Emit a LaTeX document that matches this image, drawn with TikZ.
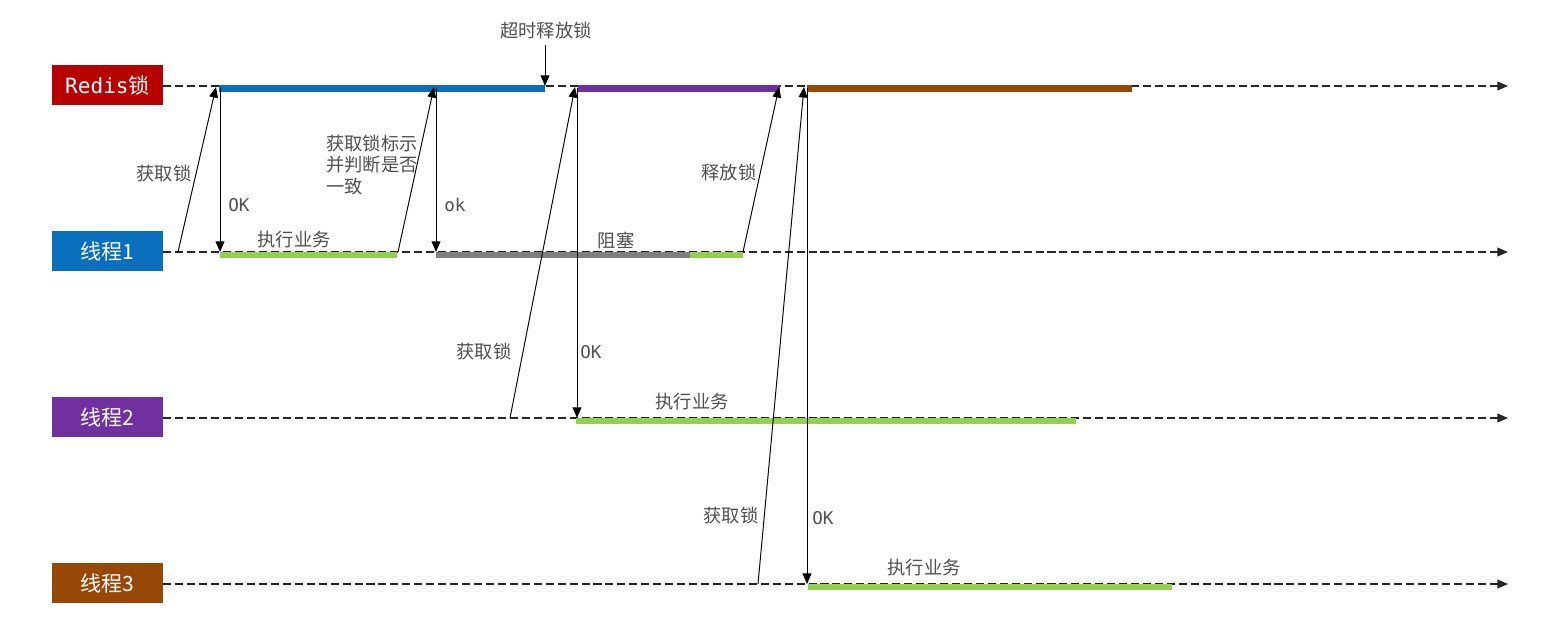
\documentclass[tikz,border=0pt]{standalone}
\usepackage{fontspec}
\setmainfont{Noto Sans CJK SC}
\newfontfamily\monof{DejaVu Sans Mono}
\usetikzlibrary{arrows.meta}
\definecolor{redisc}{HTML}{B70000}
\definecolor{t1c}{HTML}{0A70BE}
\definecolor{t2c}{HTML}{7030A0}
\definecolor{t3c}{HTML}{974806}
\definecolor{grn}{HTML}{92D050}
\definecolor{gry}{HTML}{7F7F7F}
\definecolor{txt}{HTML}{505050}
\tikzset{
  lane/.style={draw=none, minimum width=111*0.02cm, minimum height=40*0.02cm, text=white, font=\fontsize{12}{14}\selectfont, inner sep=0pt},
  timeline/.style={draw=black!85, line width=0.6pt, dash pattern=on 4.6pt off 2.2pt, -{Triangle[length=6pt,width=5pt]}},
  msg/.style={draw=black, line width=0.55pt, -{Triangle[length=6pt,width=5pt]}},
  lbl/.style={text=txt, font=\fontsize{10.4}{12.4}\selectfont, inner sep=0pt},
  oklbl/.style={text=txt, font=\monof\fontsize{10}{12}\selectfont, inner sep=0pt},
}
\begin{document}
\begin{tikzpicture}[x=0.02cm, y=-0.02cm]
\useasboundingbox (0,0) rectangle (1553,635);
% lanes
\node[lane, fill=redisc] (redis) at (107.5,85) {{\monof Redis}锁};
\node[lane, fill=t1c] (t1) at (107.5,251) {线程1};
\node[lane, fill=t2c] (t2) at (107.5,417) {线程2};
\node[lane, fill=t3c] (t3) at (107.5,583) {线程3};
% timeline end points
\coordinate (re) at (1508,86);
\coordinate (t1e) at (1508,252);
\coordinate (t2e) at (1508,418);
\coordinate (t3e) at (1508,584);
% timelines
\draw[timeline] (redis.east |- re) -- (re);
\draw[timeline] (t1.east |- t1e) -- (t1e);
\draw[timeline] (t2.east |- t2e) -- (t2e);
\draw[timeline] (t3.east |- t3e) -- (t3e);
% bars
\fill[t1c] (219,85.5) rectangle (545,92);
\fill[t2c] (578,85.5) rectangle (780,92);
\fill[t3c] (807,85.5) rectangle (1132,92);
\fill[grn] (220,251.5) rectangle (397,258);
\fill[gry] (436,251.5) rectangle (690,258);
\fill[grn] (690,251.5) rectangle (743,258);
\fill[grn] (576,417.5) rectangle (1076,424);
\fill[grn] (808,583.5) rectangle (1172,590);
% message coordinates
\coordinate (a1s) at (178,252); \coordinate (a1e) at (216,87);
\coordinate (o1s) at (220,88); \coordinate (o1e) at (220,252);
\coordinate (a2s) at (398,252); \coordinate (a2e) at (434,87);
\coordinate (o2s) at (436,88); \coordinate (o2e) at (436,252);
\coordinate (tos) at (545,45); \coordinate (toe) at (545,86);
\coordinate (a3s) at (510,418); \coordinate (a3e) at (575,87);
\coordinate (o3s) at (577,88); \coordinate (o3e) at (577,418);
\coordinate (a4s) at (743,252); \coordinate (a4e) at (779,87);
\coordinate (a5s) at (758,584); \coordinate (a5e) at (804,87);
\coordinate (o5s) at (807,88); \coordinate (o5e) at (807,584);
\draw[msg] (a1s) -- (a1e);
\draw[msg] (o1s) -- (o1e);
\draw[msg] (a2s) -- (a2e);
\draw[msg] (o2s) -- (o2e);
\draw[msg] (tos) -- (toe);
\draw[msg] (a3s) -- (a3e);
\draw[msg] (o3s) -- (o3e);
\draw[msg] (a4s) -- (a4e);
\draw[msg] (a5s) -- (a5e);
\draw[msg] (o5s) -- (o5e);
% labels
\node[lbl] (l1) at (164,174) {获取锁};
\node[oklbl, anchor=west] (k1) at (228,205) {OK};
\node[lbl, anchor=west, align=left] (l2) at (326,165) {获取锁标示\\并判断是否\\一致};
\node[oklbl, anchor=west] (k2) at (444,205) {ok};
\node[lbl] (l3) at (546,31) {超时释放锁};
\node[lbl] (l4) at (484,352) {获取锁};
\node[oklbl, anchor=west] (k3) at (580,352) {OK};
\node[lbl] (l5) at (729,173) {释放锁};
\node[lbl] (l6) at (731,516) {获取锁};
\node[oklbl, anchor=west] (k5) at (812,518) {OK};
\node[lbl] (b1) at (294,240) {执行业务};
\node[lbl] (b2) at (616,240) {阻塞};
\node[lbl] (b3) at (692,402) {执行业务};
\node[lbl] (b4) at (924,568) {执行业务};
\end{tikzpicture}
\end{document}
